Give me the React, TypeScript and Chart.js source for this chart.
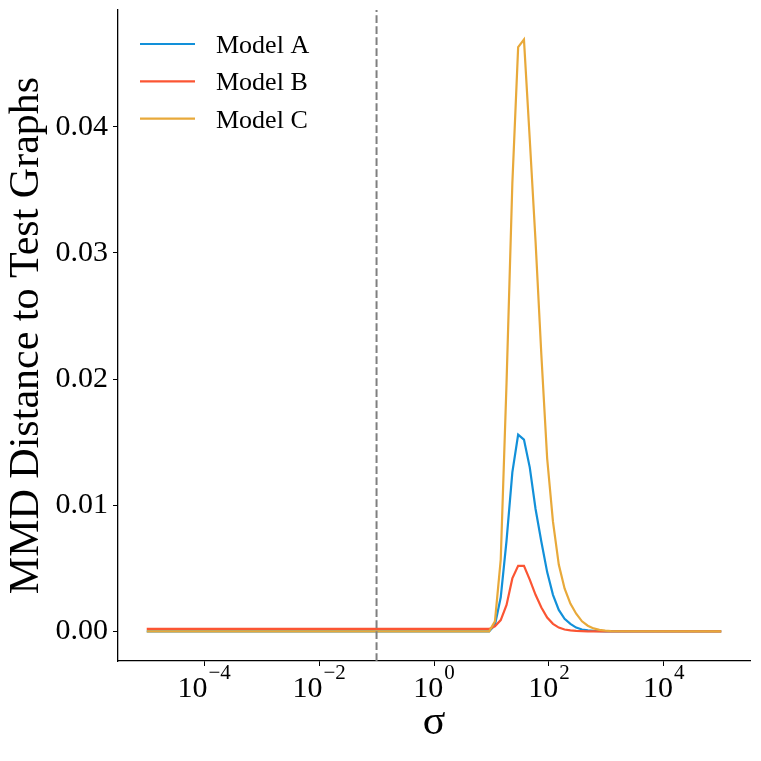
import { useEffect, useRef } from 'react';
import { Chart, registerables } from 'chart.js';

Chart.register(...registerables);

// sigma grid (flat stretches kept to their end points)
const sigma = [
  1e-5, 9.115, 11.5, 14.51, 18.31, 23.1, 29.15, 36.79, 46.42, 58.57, 73.91, 93.26,
  117.7, 148.5, 187.4, 236.4, 298.4, 376.5, 475.1, 599.5, 756.5, 954.6, 1205, 1e5,
];
const modelA = [
  0, 0, 0.0005, 0.0027, 0.0072, 0.0126, 0.0156, 0.0152, 0.013, 0.0097, 0.0071, 0.0047,
  0.0029, 0.0017, 0.001, 0.0006, 0.0003, 0.00015, 0.00008, 0.00004, 0.00002, 0.00001, 0, 0,
];
const modelB = [
  0.0002, 0.0002, 0.0004, 0.0009, 0.0021, 0.0042, 0.0052, 0.0052, 0.0041, 0.0029, 0.0019, 0.0011,
  0.0006, 0.0003, 0.00015, 0.00008, 0.00004, 0.00002, 0, 0, 0, 0, 0, 0,
];
const modelC = [
  0, 0, 0.0008, 0.0057, 0.0197, 0.0355, 0.0463, 0.0469, 0.039, 0.0309, 0.0219, 0.0137,
  0.0087, 0.0053, 0.0034, 0.0022, 0.0014, 0.0008, 0.00045, 0.00024, 0.00012, 0.00006, 0.00003, 0,
];

const seriesNames = ['Model A', 'Model B', 'Model C'];
const seriesValues = [modelA, modelB, modelC];
const seriesColors = ['#1290d9', '#fb5533', '#e8a93a'];

const xTickExponents = [-4, -2, 0, 2, 4];
const yTicks = [0, 0.01, 0.02, 0.03, 0.04];
const markerSigma = 0.1;

const serif = '"Liberation Serif", "Times New Roman", Times, serif';

const markerLine = {
  id: 'markerLine',
  afterDatasetsDraw(chart: any) {
    const { ctx, chartArea, scales } = chart;
    const x = scales.x.getPixelForValue(markerSigma);
    ctx.save();
    ctx.strokeStyle = '#7f7f7f';
    ctx.lineWidth = 2;
    ctx.setLineDash([7.7, 3.3]);
    ctx.beginPath();
    ctx.moveTo(x, chartArea.bottom);
    ctx.lineTo(x, chartArea.top);
    ctx.stroke();
    ctx.restore();
  },
};

// "10" with a raised exponent, like matplotlib's log labels
const powerLabels = {
  id: 'powerLabels',
  afterDraw(chart: any) {
    const { ctx, scales, chartArea } = chart;
    ctx.save();
    ctx.fillStyle = '#000';
    ctx.textBaseline = 'alphabetic';
    ctx.textAlign = 'left';
    for (const e of xTickExponents) {
      const px = scales.x.getPixelForValue(Math.pow(10, e));
      const exp = e < 0 ? '\u2212' + Math.abs(e) : String(e);
      ctx.font = `30px ${serif}`;
      const w1 = ctx.measureText('10').width;
      ctx.font = `21px ${serif}`;
      const w2 = ctx.measureText(exp).width;
      const left = px - (w1 + w2 + 1) / 2;
      ctx.font = `30px ${serif}`;
      ctx.fillText('10', left, chartArea.bottom + 36);
      ctx.font = `21px ${serif}`;
      ctx.fillText(exp, left + w1 + 1, chartArea.bottom + 18);
    }
    ctx.restore();
  },
};

const insideLegend = {
  id: 'insideLegend',
  afterDraw(chart: any) {
    const { ctx, chartArea } = chart;
    ctx.save();
    ctx.font = `26px ${serif}`;
    ctx.textBaseline = 'alphabetic';
    ctx.textAlign = 'left';
    ctx.fillStyle = '#000';
    seriesNames.forEach((name, i) => {
      const y = chartArea.top + 34 + i * 37.3;
      ctx.strokeStyle = seriesColors[i];
      ctx.lineWidth = 2.2;
      ctx.beginPath();
      ctx.moveTo(chartArea.left + 22, y);
      ctx.lineTo(chartArea.left + 77, y);
      ctx.stroke();
      ctx.fillText(name, chartArea.left + 98, y + 9);
    });
    ctx.restore();
  },
};

function MmdChart() {
  const canvasRef = useRef<HTMLCanvasElement>(null);

  useEffect(() => {
    if (!canvasRef.current) return;

    const chart = new Chart(canvasRef.current, {
      type: 'line',
      data: {
        datasets: seriesNames.map((name, i) => ({
          label: name,
          data: sigma.map((s, j) => ({ x: s, y: seriesValues[i][j] })),
          borderColor: seriesColors[i],
          backgroundColor: seriesColors[i],
          borderWidth: 2.2,
          pointRadius: 0,
          tension: 0,
          fill: false,
          order: seriesNames.length - i,
        })),
      },
      options: {
        responsive: true,
        maintainAspectRatio: false,
        animation: false,
        layout: { padding: { top: 10, right: 11, left: 0, bottom: 0 } },
        plugins: {
          legend: { display: false },
          tooltip: { enabled: false },
        },
        scales: {
          x: {
            type: 'logarithmic',
            min: Math.pow(10, -5.5),
            max: Math.pow(10, 5.5),
            afterBuildTicks: (scale: any) => {
              scale.ticks = xTickExponents.map((e) => ({ value: Math.pow(10, e) }));
            },
            afterFit: (scale: any) => {
              scale.height = 100;
              scale.paddingLeft = 0;
              scale.paddingRight = 0;
            },
            ticks: { callback: () => '', autoSkip: false, maxRotation: 0 },
            grid: {
              drawOnChartArea: false,
              drawTicks: true,
              tickLength: 5,
              tickColor: '#000',
              tickWidth: 1,
            },
            border: { display: true, color: '#000', width: 1.3 },
            title: {
              display: true,
              text: 'σ',
              color: '#000',
              font: { family: serif, size: 42 },
              padding: { top: 0, bottom: 13 },
            },
          },
          y: {
            type: 'linear',
            min: -0.002345,
            max: 0.049245,
            afterBuildTicks: (scale: any) => {
              scale.ticks = yTicks.map((v) => ({ value: v }));
            },
            afterFit: (scale: any) => {
              scale.width = 118;
              scale.paddingTop = 0;
              scale.paddingBottom = 0;
            },
            ticks: {
              callback: (v: any) => Number(v).toFixed(2),
              color: '#000',
              font: { family: serif, size: 30 },
              padding: 5,
              autoSkip: false,
            },
            grid: {
              drawOnChartArea: false,
              drawTicks: true,
              tickLength: 5,
              tickColor: '#000',
              tickWidth: 1,
            },
            border: { display: true, color: '#000', width: 1.3 },
            title: {
              display: true,
              text: 'MMD Distance to Test Graphs',
              color: '#000',
              font: { family: serif, size: 42 },
              padding: { top: 2, bottom: 0 },
            },
          },
        },
      },
      plugins: [markerLine, powerLabels, insideLegend],
    });

    return () => {
      chart.destroy();
    };
  }, []);

  return (
    <div style={{ position: 'fixed', left: 0, top: 0, width: 761, height: 761, background: '#fff' }}>
      <canvas ref={canvasRef} />
    </div>
  );
}

export default function App() {
  return <MmdChart />;
}
